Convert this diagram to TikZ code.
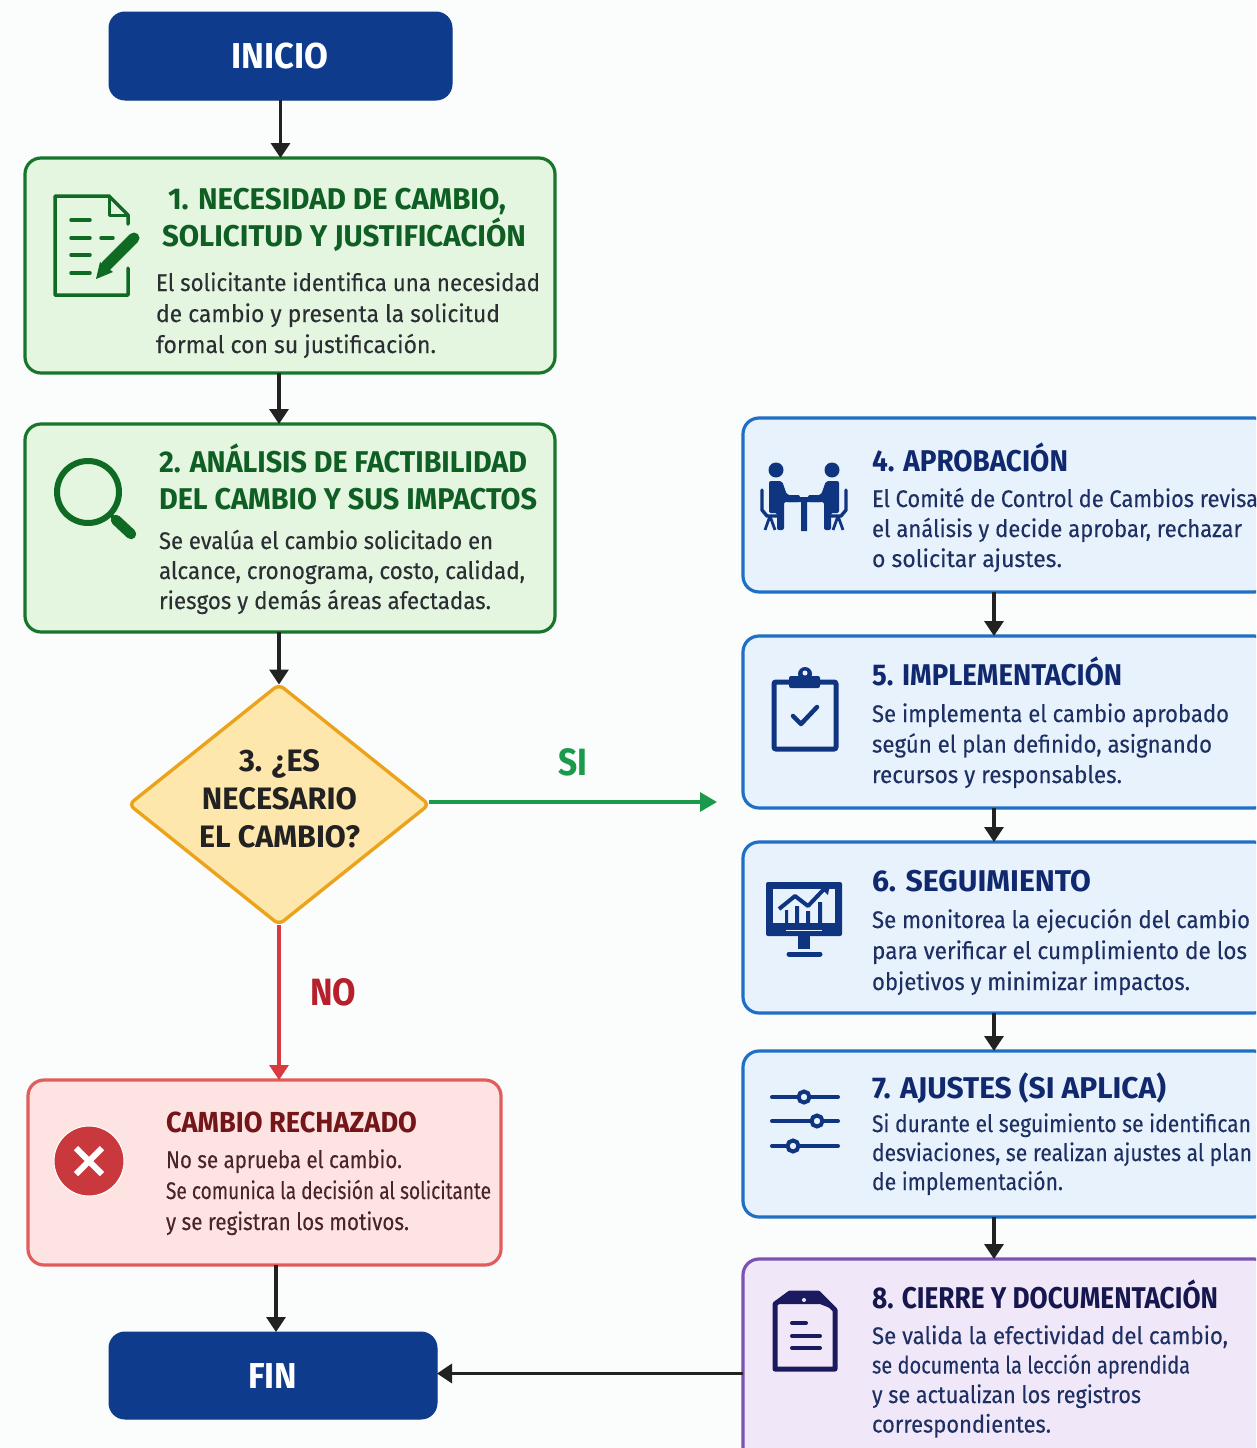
\documentclass[tikz,border=0pt]{standalone}
\usepackage{fontspec}
\usepackage{graphicx}
\setmainfont{Fira Sans}
\newfontfamily\bodyf[FakeBold=0.25]{Fira Sans}
\usetikzlibrary{arrows.meta,shapes.geometric}
\definecolor{paper}{HTML}{FBFCFC}
\definecolor{navy}{HTML}{0F3B8C}
\definecolor{grn}{HTML}{17762C}
\definecolor{grnicon}{HTML}{0F6B24}
\definecolor{grnfill}{HTML}{E4F5E0}
\definecolor{grntitle}{HTML}{0F5F24}
\definecolor{blu}{HTML}{1F70C4}
\definecolor{blufill}{HTML}{E7F2FC}
\definecolor{blutitle}{HTML}{10286E}
\definecolor{blubody}{HTML}{1E2F63}
\definecolor{pur}{HTML}{7B52B5}
\definecolor{purfill}{HTML}{F0E8F9}
\definecolor{purtitle}{HTML}{17174F}
\definecolor{red1}{HTML}{E25C5C}
\definecolor{redfill}{HTML}{FDE4E2}
\definecolor{redtitle}{HTML}{74151A}
\definecolor{redbody}{HTML}{4A2428}
\definecolor{redline}{HTML}{D93A40}
\definecolor{redlab}{HTML}{B5202A}
\definecolor{redmark}{HTML}{C8383C}
\definecolor{gold}{HTML}{ECA31C}
\definecolor{goldfill}{HTML}{FDE7AC}
\definecolor{grnline}{HTML}{1B9A4B}
\definecolor{ink}{HTML}{222222}
\definecolor{bodyink}{HTML}{2B2F33}
\definecolor{iconblu}{HTML}{0F3580}
\definecolor{icondoc}{HTML}{1B1A5E}
% a line of text stretched to a width measured on the reference
\newcommand{\fl}[2]{\resizebox{#1pt}{\height}{\rule{0pt}{\dimexpr\baselineskip*3/4\relax}#2}}
% place a block of lines by its first baseline
\newcommand{\tb}[7]{\pgfmathsetmacro{\tby}{#3-0.75*#5}\node[txt,anchor=#6,#4] (#1) at (#2,\tby) {#7};}
% box node by its corners
\newcommand{\bx}[6]{\pgfmathsetmacro{\bxa}{(#2+#4)/2}\pgfmathsetmacro{\bxb}{(#3+#5)/2}\pgfmathsetmacro{\bxw}{#4-#2}\pgfmathsetmacro{\bxh}{#5-#3}\node[#6,minimum width=\bxw pt,minimum height=\bxh pt] (#1) at (\bxa,\bxb) {};}
\tikzset{
  txt/.style={inner sep=0pt,outer sep=0pt},
  base box/.style={rectangle,rounded corners=16pt,inner sep=0pt,outer sep=0pt,line width=3.2pt,draw},
  green box/.style={base box,draw=grn,fill=grnfill},
  blue box/.style={base box,draw=blu,fill=blufill},
  purple box/.style={base box,draw=pur,fill=purfill},
  red box/.style={base box,draw=red1,fill=redfill},
  term box/.style={base box,draw=navy,fill=navy,line width=1pt},
  arr/.style={draw=ink,line width=3.4pt,-{Triangle[width=19pt,length=15pt]}},
  title/.style={font=\fontsize{30}{37}\selectfont\bfseries},
  body/.style={font=\fontsize{24}{30}\selectfont\bodyf},
}
\begin{document}
\begin{tikzpicture}[x=1pt,y=-1pt]
\useasboundingbox (0,0) rectangle (1256,1448);
\clip (0,0) rectangle (1256,1448);
\fill[paper] (0,0) rectangle (1256,1448);

% boxes
\bx{inicio}{109}{12}{452}{100}{term box}
\bx{b1}{25}{158}{555}{373}{green box}
\bx{b2}{25}{424}{555}{632}{green box}
\node[diamond,draw=gold,fill=goldfill,line width=3.4pt,inner sep=0pt,outer sep=0pt,minimum width=300pt,minimum height=240pt,aspect=1.25,rounded corners=6pt] (d3) at (279,804.5) {};
\bx{rej}{28}{1080}{501}{1265}{red box}
\bx{fin}{109}{1332}{437}{1419}{term box}
\bx{b4}{743}{418}{1270}{592}{blue box}
\bx{b5}{743}{636}{1270}{808}{blue box}
\bx{b6}{743}{842}{1270}{1013}{blue box}
\bx{b7}{743}{1051}{1270}{1217}{blue box}
\bx{b8}{743}{1259}{1270}{1470}{purple box}
\coordinate (sifree) at (717,802);

% connectors
\draw[arr] (inicio.south) -- (inicio.south |- b1.north);
\draw[arr] ([xshift=-11pt]b1.south) -- ([xshift=-11pt]b2.north);
\draw[arr] (d3.north |- b2.south) -- (d3.north);
\draw[draw=redline,line width=3.2pt,-{Triangle[width=19pt,length=15pt]}] (d3.south) -- (d3.south |- rej.north);
\draw[draw=grnline,line width=3.2pt,-{Triangle[width=19pt,length=17pt]}] (d3.east |- sifree) -- (sifree);
\draw[arr] ([xshift=11.5pt]rej.south) -- ([xshift=11.5pt]rej.south |- fin.north);
\draw[arr] ([yshift=2pt]b8.west |- fin.east) -- ([yshift=2pt]fin.east);
\draw[arr] ([xshift=-12.5pt]b4.south) -- ([xshift=-12.5pt]b5.north);
\draw[arr] ([xshift=-12.5pt]b5.south) -- ([xshift=-12.5pt]b6.north);
\draw[arr] ([xshift=-12.5pt]b6.south) -- ([xshift=-12.5pt]b7.north);
\draw[arr] ([xshift=-12.5pt]b7.south) -- ([xshift=-12.5pt]b8.north);

% terminals
\tb{tinicio}{279.5}{68}{text=white,font=\fontsize{36}{36}\selectfont\bfseries}{36}{north}{\fl{97}{INICIO}}
\tb{tfin}{272.5}{1388}{text=white,font=\fontsize{36}{36}\selectfont\bfseries}{36}{north}{\fl{49}{FIN}}

% green
\tb{t1}{162}{209}{title,text=grntitle,align=left}{37}{north west}{\hspace*{6pt}\fl{338}{1. NECESIDAD DE CAMBIO,}\\\fl{364}{SOLICITUD Y JUSTIFICACIÓN}}
\tb{d1}{156}{291}{text=bodyink,align=left,font=\fontsize{24}{31}\selectfont\bodyf}{31}{north west}{\fl{384}{El solicitante identifica una necesidad}\\\fl{344}{de cambio y presenta la solicitud}\\\fl{280}{formal con su justificación.}}
\tb{t2}{159}{472}{title,text=grntitle,align=left}{37}{north west}{\fl{368}{2. ANÁLISIS DE FACTIBILIDAD}\\\fl{378}{DEL CAMBIO Y SUS IMPACTOS}}
\tb{d2}{159}{549}{body,text=bodyink,align=left}{30}{north west}{\fl{334}{Se evalúa el cambio solicitado en}\\\fl{366}{alcance, cronograma, costo, calidad,}\\\fl{332}{riesgos y demás áreas afectadas.}}

% decision
\tb{t3}{279.5}{771}{text=ink,align=center,font=\fontsize{31}{38}\selectfont\bfseries}{38}{north}{\fl{81}{3. ¿ES}\\\fl{155}{NECESARIO}\\\fl{161}{EL CAMBIO?}}
\tb{si}{572.5}{775}{text=grnline,font=\fontsize{38}{38}\selectfont\bfseries}{38}{north}{\fl{29}{SI}}
\tb{no}{333}{1005}{text=redlab,font=\fontsize{38}{38}\selectfont\bfseries}{38}{north}{\fl{46}{NO}}

% rejected
\tb{tr}{166}{1132}{title,text=redtitle,font=\fontsize{29}{30}\selectfont\bfseries}{30}{north west}{\fl{251}{CAMBIO RECHAZADO}}
\tb{dr}{166}{1168}{text=redbody,align=left,font=\fontsize{24}{31}\selectfont\bodyf}{31}{north west}{\fl{236}{No se aprueba el cambio.}\\\fl{325}{Se comunica la decisión al solicitante}\\\fl{243}{y se registran los motivos.}}

% blue column
\tb{t4}{872}{471}{title,text=blutitle}{37}{north west}{\fl{196}{4. APROBACIÓN}}
\tb{d4}{872}{507}{body,text=blubody,align=left}{30}{north west}{\fl{386}{El Comité de Control de Cambios revisa}\\\fl{370}{el análisis y decide aprobar, rechazar}\\\fl{190}{o solicitar ajustes.}}
\tb{t5}{872}{685}{title,text=blutitle}{37}{north west}{\fl{250}{5. IMPLEMENTACIÓN}}
\tb{d5}{872}{722}{text=blubody,align=left,font=\fontsize{24}{30.5}\selectfont\bodyf}{30.5}{north west}{\fl{357}{Se implementa el cambio aprobado}\\\fl{340}{según el plan definido, asignando}\\\fl{250}{recursos y responsables.}}
\tb{t6}{872}{891}{title,text=blutitle}{37}{north west}{\fl{219}{6. SEGUIMIENTO}}
\tb{d6}{872}{928}{text=blubody,align=left,font=\fontsize{24}{31}\selectfont\bodyf}{31}{north west}{\fl{378}{Se monitorea la ejecución del cambio}\\\fl{375}{para verificar el cumplimiento de los}\\\fl{318}{objetivos y minimizar impactos.}}
\tb{t7}{872}{1098}{title,text=blutitle}{37}{north west}{\fl{294}{7. AJUSTES (SI APLICA)}}
\tb{d7}{872}{1132}{text=blubody,align=left,font=\fontsize{24}{29}\selectfont\bodyf}{29}{north west}{\fl{379}{Si durante el seguimiento se identifican}\\\fl{380}{desviaciones, se realizan ajustes al plan}\\\fl{191}{de implementación.}}
\tb{t8}{872}{1308}{title,text=purtitle}{37}{north west}{\fl{346}{8. CIERRE Y DOCUMENTACIÓN}}
\tb{d8}{872}{1344}{text=blubody,align=left,font=\fontsize{24}{29.5}\selectfont\bodyf}{29.5}{north west}{\fl{356}{Se valida la efectividad del cambio,}\\\fl{318}{se documenta la lección aprendida}\\\fl{269}{y se actualizan los registros}\\\fl{179}{correspondientes.}}

% --- icons ---
% document with pencil
\begin{scope}[draw=grnicon,line width=3.5pt,line join=round,line cap=round]
\draw (128,224) -- (128,215) -- (109,196) -- (55,196) -- (55,295) -- (128,295) -- (128,268);
\draw[line width=3pt] (109,196) -- (109,215) -- (128,215);
\draw (71,220) -- (90,220) (71,238) -- (90,238) (101,238) -- (113,238) (71,255) -- (90,255) (71,273) -- (90,273);
\draw[line cap=round,line width=11pt] (106,266) -- (134,238);
\fill[grnicon] (96,279) -- (100,262) -- (113,272) -- cycle;
\end{scope}
% magnifier
\draw[grnicon,line width=6pt] (88,492) circle (31);
\draw[grnicon,line width=4pt] (110,514) -- (116,520);
\draw[grnicon,line width=10.5pt,line cap=round] (116,520) -- (131,534);
% people at a table
\begin{scope}[iconblu]
\fill (776,470) circle (7.5) (832,470) circle (7.5);
\fill[rounded corners=2pt] (769,481) -- (782,481) -- (787,495) -- (800,495) -- (800,502) -- (784,502) -- (784,530) -- (777,530) -- (777,513) -- (769,513) -- cycle;
\fill[rounded corners=2pt] (839,481) -- (826,481) -- (821,495) -- (808,495) -- (808,502) -- (824,502) -- (824,530) -- (831,530) -- (831,513) -- (839,513) -- cycle;
\fill (788,497) rectangle (820,502) (801,500) rectangle (807,531);
\draw[line width=3.4pt,line cap=round] (762,490) -- (762,510) -- (767,516) -- (777,516) (846,490) -- (846,510) -- (841,516) -- (831,516);
\draw[line width=2.8pt] (770,516) -- (765,530) (770,516) -- (775,530) (838,516) -- (843,530) (838,516) -- (833,530);
\end{scope}
% clipboard
\begin{scope}[iconblu]
\draw[line width=5pt,rounded corners=2pt] (774,682) rectangle (836,749);
\fill[rounded corners=2pt] (789,676) rectangle (820,688);
\fill (805,674) circle (7);
\fill[blufill] (805,673) circle (2.5);
\draw[line width=4.5pt,line cap=round,line join=round] (793,716) -- (801,724) -- (817,707);
\end{scope}
% monitor
\begin{scope}[iconblu]
\fill[rounded corners=2pt] (766,882) rectangle (842,936);
\fill[blufill] (773,889) rectangle (835,923);
\fill (798,936) rectangle (810,949);
\draw[line width=5pt,line cap=round] (789,954) -- (820,954);
\draw[line width=4pt,line join=round] (779,909) -- (795,896) -- (808,906) -- (826,887);
\fill (830,884) -- (819,886) -- (828,895) -- cycle;
\fill (785,910) rectangle (788,923) (795,906) rectangle (799,923) (806,911) rectangle (810,923) (818,902) rectangle (822,923);
\draw[line width=1pt,blufill] (786,930) -- (822,930);
\end{scope}
% sliders
\begin{scope}[iconblu,line width=4pt,line cap=round]
\draw (772,1097) -- (838,1097) (772,1121) -- (838,1121) (772,1146) -- (838,1146);
\draw[fill=blufill] (804,1097) circle (5.5) (817,1121) circle (5.5) (793,1146) circle (5.5);
\end{scope}
% closing document
\begin{scope}[icondoc]
\draw[line width=5pt,line join=round] (775,1304) -- (775,1369) -- (835,1369) -- (835,1310) -- (818,1293) -- (790,1293) -- cycle;
\fill (775,1304) -- (790,1293) -- (818,1293) -- (835,1310) -- (820,1304) -- cycle;
\fill[purfill] (804,1300) circle (2);
\draw[line width=4pt,line cap=round] (792,1323) -- (806,1323) (792,1336) -- (820,1336) (792,1348) -- (820,1348);
\end{scope}
% rejected mark
\fill[fill=redmark,draw=white,line width=1pt] (89,1161) circle (35);
\draw[white,line width=6pt] (76,1148) -- (102,1174) (102,1148) -- (76,1174);
\end{tikzpicture}
\end{document}
